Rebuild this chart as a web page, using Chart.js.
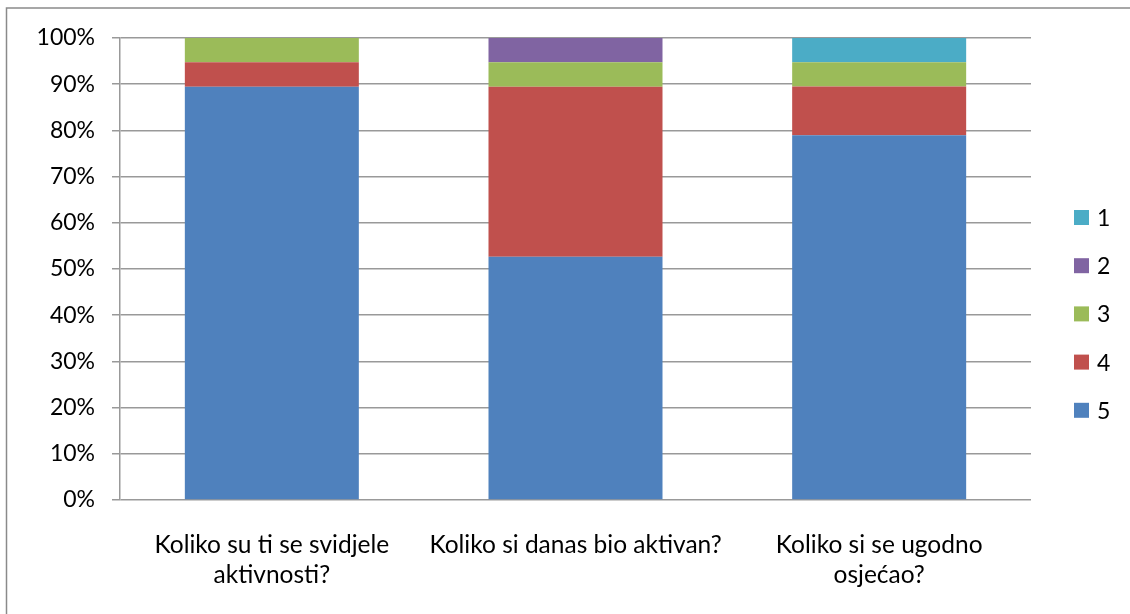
<!DOCTYPE html>
<html>
<head>
<meta charset="utf-8">
<script src="https://cdn.jsdelivr.net/npm/chart.js@4.4.1/dist/chart.umd.min.js"></script>
<style>
  html, body { margin: 0; padding: 0; background: #ffffff; }
  #wrap { width: 1130px; height: 614px; position: relative; }
</style>
</head>
<body>
<div id="wrap"><canvas id="c" width="1130" height="614"></canvas></div>
<script>
const categories = [
  ['Koliko su ti se svidjele', 'aktivnosti?'],
  'Koliko si danas bio aktivan?',
  ['Koliko si se ugodno', 'osjećao?']
];
const seriesNames = ['5', '4', '3', '2', '1'];
const values5 = [89.47, 52.63, 78.95];
const values4 = [5.26, 36.84, 10.53];
const values3 = [5.26, 5.26, 5.26];
const values2 = [0, 5.26, 0];
const values1 = [0, 0, 5.26];
const seriesColors = ['#4F81BD', '#C0504D', '#9BBB59', '#8064A2', '#4BACC6'];
const yTicks = [0, 10, 20, 30, 40, 50, 60, 70, 80, 90, 100];

const FONT = 'Lato, Carlito, Calibri, "Open Sans", sans-serif';
const GRID = '#999999';
const seriesValues = [values5, values4, values3, values2, values1];

const datasets = seriesNames.map((n, i) => ({
  label: n,
  data: seriesValues[i],
  backgroundColor: seriesColors[i],
  borderWidth: 0,
  categoryPercentage: 1.0,
  barPercentage: 0.573
}));

const frame = {
  id: 'frame',
  beforeDraw(chart) {
    const ctx = chart.ctx;
    ctx.save();
    ctx.fillStyle = '#ffffff';
    ctx.fillRect(0, 0, chart.width, chart.height);
    ctx.strokeStyle = '#8a8a8a';
    ctx.lineWidth = 1.5;
    ctx.beginPath();
    ctx.moveTo(6.5, chart.height);
    ctx.lineTo(6.5, 8);
    ctx.lineTo(chart.width, 8);
    ctx.stroke();
    ctx.restore();
  }
};

const sideLegend = {
  id: 'sideLegend',
  afterDraw(chart) {
    const ctx = chart.ctx;
    const ds = chart.data.datasets.slice().reverse();
    const x0 = 1074, box = 15, startY = 217.5, step = 48.2;
    ctx.save();
    ctx.font = '23px ' + FONT;
    ctx.textBaseline = 'middle';
    ctx.textAlign = 'left';
    ds.forEach((d, i) => {
      const cy = startY + i * step;
      ctx.fillStyle = d.backgroundColor;
      ctx.fillRect(x0, cy - box / 2, box, box);
      ctx.fillStyle = '#000000';
      ctx.fillText(d.label, x0 + 23, cy + 1);
    });
    ctx.restore();
  }
};

new Chart(document.getElementById('c'), {
  type: 'bar',
  data: { labels: categories, datasets: datasets },
  options: {
    responsive: false,
    animation: false,
    layout: { padding: { left: 0, top: 38, right: 99, bottom: 0 } },
    plugins: {
      legend: { display: false },
      tooltip: { enabled: false }
    },
    scales: {
      x: {
        stacked: true,
        grid: { display: false, drawTicks: false },
        border: { display: false },
        ticks: {
          color: '#000000',
          font: { family: FONT, size: 24.5, lineHeight: '30px' },
          padding: 30,
          maxRotation: 0,
          autoSkip: false
        },
        afterFit(scale) { scale.height = 114; }
      },
      y: {
        stacked: true,
        min: 0,
        max: 100,
        afterBuildTicks(scale) { scale.ticks = yTicks.map(v => ({ value: v })); },
        grid: { color: GRID, lineWidth: 1.5, tickLength: 8, drawTicks: true },
        border: { display: true, color: GRID, width: 1.5 },
        ticks: {
          color: '#000000',
          font: { family: FONT, size: 23 },
          padding: 17,
          callback: v => v + '%'
        },
        afterFit(scale) { scale.width = 120; }
      }
    }
  },
  plugins: [frame, sideLegend]
});
</script>
</body>
</html>
